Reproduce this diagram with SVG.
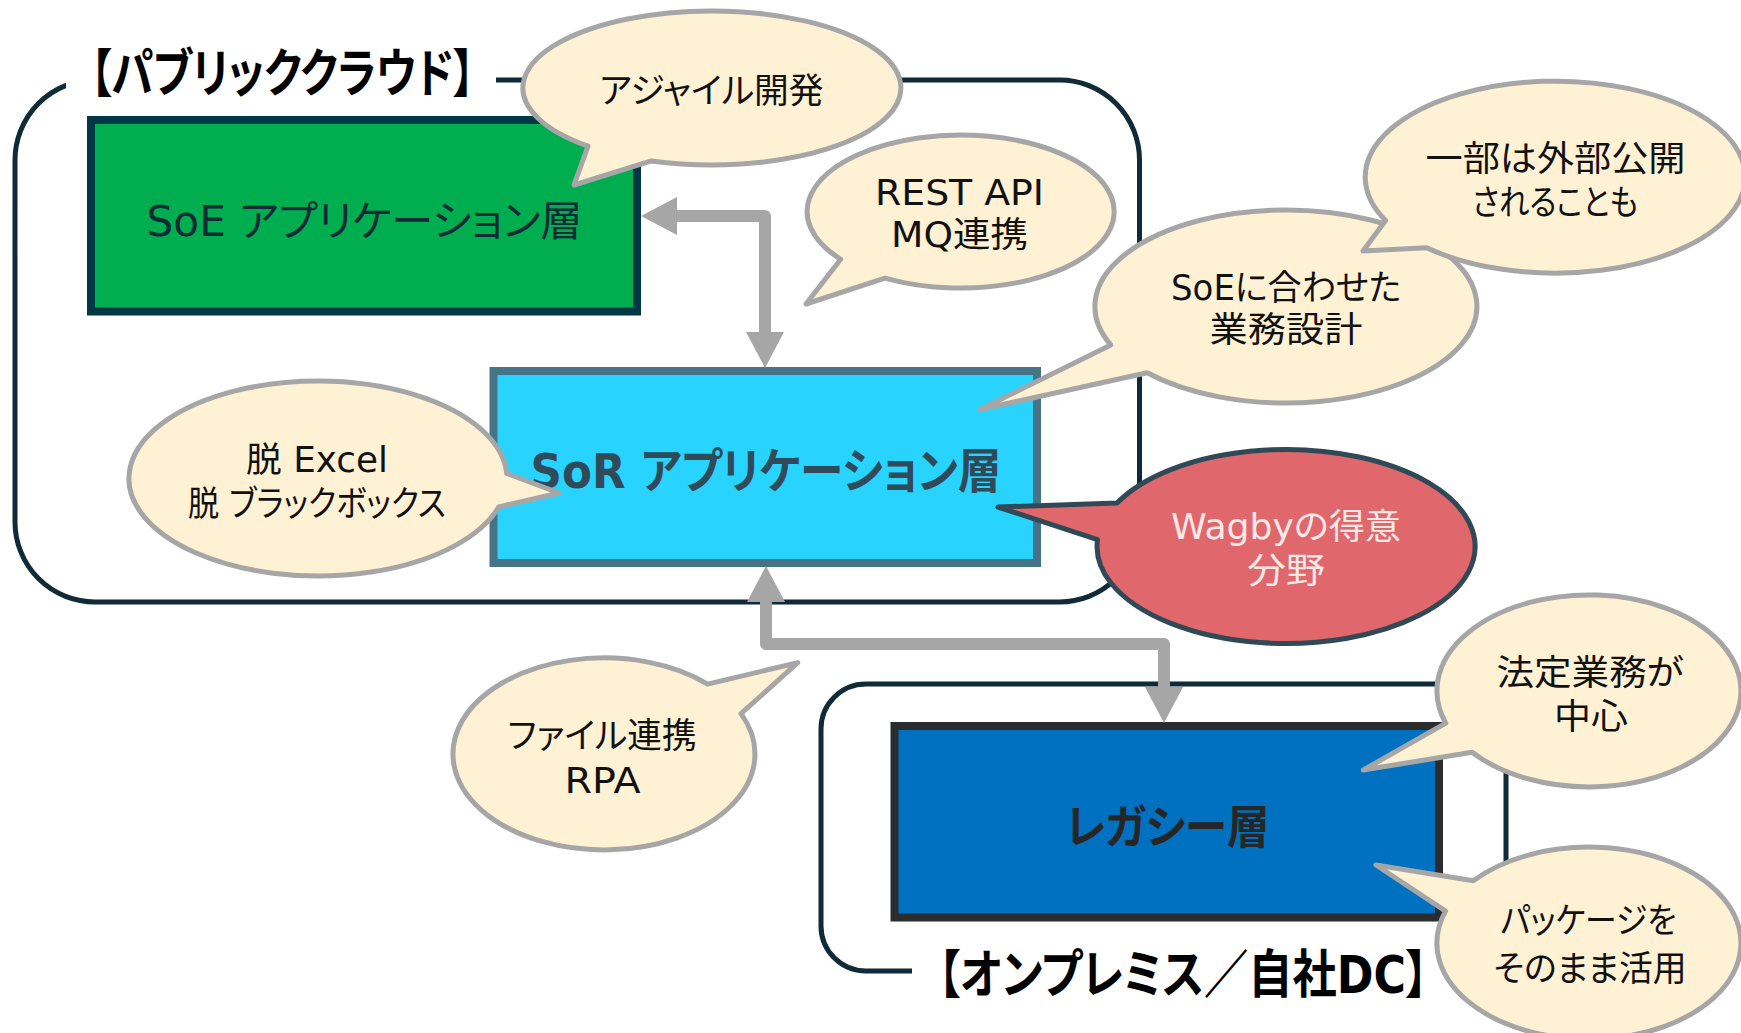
<svg xmlns="http://www.w3.org/2000/svg" width="1741" height="1033" viewBox="0 0 1741 1033">
  <style>
    .zone { fill: none; stroke: #0f2b37; stroke-width: 5; }
    .gap { fill: #ffffff; }
    .jp { font-family: "DejaVu Sans", "Noto Sans CJK JP", sans-serif; font-feature-settings: "palt"; text-anchor: middle; }
    .zone-title { font-size: 52px; font-weight: bold; fill: #000000; }
    .layer { stroke-width: 8; }
    .callout { fill: #fff1d4; stroke: #a6a6a6; stroke-width: 5; stroke-linejoin: round; }
    .callout-hot { fill: #e0676c; stroke: #2f4a56; stroke-width: 5; stroke-linejoin: round; }
    .note { font-size: 35px; fill: #111111; }
    .note-hot { font-size: 35px; fill: #fde9e6; }
    .link { fill: none; stroke: #a6a6a6; stroke-width: 12; stroke-linejoin: round; marker-start: url(#head); marker-end: url(#head); }
  </style>
  <defs>
    <marker id="head" viewBox="0 0 36 38" refX="1" refY="19" markerWidth="36" markerHeight="38" markerUnits="userSpaceOnUse" orient="auto-start-reverse">
      <path d="M0,0 L36,19 L0,38 Z" fill="#a6a6a6"/>
    </marker>
  </defs>

  <rect width="1741" height="1033" fill="#ffffff"/>

  <!-- public cloud zone -->
  <g id="zone-cloud">
    <rect class="zone" x="15" y="80" width="1124.5" height="522" rx="80"/>
    <rect class="gap" x="66" y="46" width="430" height="62"/>
    <text class="jp zone-title" x="282.5" y="92" textLength="384" lengthAdjust="spacingAndGlyphs">【パブリッククラウド】</text>
  </g>

  <!-- on-premises zone -->
  <g id="zone-onprem">
    <rect class="zone" x="821" y="684" width="685" height="287" rx="45"/>
    <rect class="gap" x="912" y="948" width="533" height="50"/>
    <text class="jp zone-title" x="1183" y="993" textLength="490" lengthAdjust="spacingAndGlyphs">【オンプレミス／自社DC】</text>
  </g>

  <!-- layers -->
  <g id="layer-soe">
    <rect class="layer" x="91" y="120" width="546" height="191.5" fill="#00ad4f" stroke="#003846"/>
    <text class="jp" x="364.5" y="236" font-size="42" fill="#0e2b36" textLength="436" lengthAdjust="spacingAndGlyphs">SoE アプリケーション層</text>
  </g>

  <g id="layer-sor">
    <rect class="layer" x="493.5" y="371" width="543.5" height="192" fill="#28d3fd" stroke="#477387"/>
    <text class="jp" x="766" y="488" font-size="48" font-weight="bold" fill="#2f4b59" textLength="471" lengthAdjust="spacingAndGlyphs">SoR アプリケーション層</text>
  </g>

  <g id="layer-legacy">
    <rect class="layer" x="894.5" y="726" width="544.5" height="191.5" fill="#0070c0" stroke="#2a2c2e"/>
    <text class="jp" x="1167.5" y="843" font-size="46" font-weight="bold" fill="#262626" textLength="204" lengthAdjust="spacingAndGlyphs">レガシー層</text>
  </g>

  <!-- connectors -->
  <g id="connectors">
    <path class="link" d="M676,216 H765 V333"/>
    <path class="link" d="M766,601 V644 H1164 V688"/>
  </g>

  <!-- callouts -->
  <g id="note-agile">
    <path class="callout" d="M588,146.1 A189 77 0 1 1 651.4,160.9 L574,185 Z"/>
    <text class="jp note" x="711.5" y="103" textLength="224" lengthAdjust="spacingAndGlyphs">アジャイル開発</text>
  </g>

  <g id="note-api">
    <path class="callout" d="M840.7,259.3 A153.5 76.5 0 1 1 884.9,278.1 L806,304 Z"/>
    <text class="jp note" x="959.5" y="205" textLength="169" lengthAdjust="spacingAndGlyphs">REST API</text>
    <text class="jp note" x="959.5" y="247" textLength="137" lengthAdjust="spacingAndGlyphs">MQ連携</text>
  </g>

  <g id="note-design">
    <path class="callout" d="M1110.8,345 A191 96.5 0 1 1 1147.2,372.8 L980,409.5 Z"/>
    <text class="jp note" x="1286" y="300" textLength="230" lengthAdjust="spacingAndGlyphs">SoEに合わせた</text>
    <text class="jp note" x="1286" y="342" textLength="153" lengthAdjust="spacingAndGlyphs">業務設計</text>
  </g>

  <g id="note-public">
    <path class="callout" d="M1385.6,220.4 A190 96 0 1 1 1426.6,247.8 L1363,251 Z"/>
    <text class="jp note" x="1555.5" y="170.5" textLength="260" lengthAdjust="spacingAndGlyphs">一部は外部公開</text>
    <text class="jp note" x="1555" y="215" textLength="166" lengthAdjust="spacingAndGlyphs">されることも</text>
  </g>

  <g id="note-excel">
    <path class="callout" d="M498.7,507 A189 97.5 0 1 1 506.7,473.4 L559,493 Z"/>
    <text class="jp note" x="317" y="472" textLength="142" lengthAdjust="spacingAndGlyphs">脱 Excel</text>
    <text class="jp note" x="317" y="516" textLength="258" lengthAdjust="spacingAndGlyphs">脱 ブラックボックス</text>
  </g>

  <g id="note-wagby">
    <path class="callout-hot" d="M1117,503.1 A189 97 0 1 1 1097.5,539.7 L998,507 Z"/>
    <text class="jp note-hot" x="1286" y="539" textLength="230" lengthAdjust="spacingAndGlyphs">Wagbyの得意</text>
    <text class="jp note-hot" x="1286" y="583" textLength="78" lengthAdjust="spacingAndGlyphs">分野</text>
  </g>

  <g id="note-file">
    <path class="callout" d="M741,713.6 A151 96 0 1 1 707.6,684.1 L797.8,662.7 Z"/>
    <text class="jp note" x="602" y="748" textLength="189" lengthAdjust="spacingAndGlyphs">ファイル連携</text>
    <text class="jp note" x="602.5" y="793" textLength="76" lengthAdjust="spacingAndGlyphs">RPA</text>
  </g>

  <g id="note-legal">
    <path class="callout" d="M1445.8,723.2 A152 96 0 1 1 1472.1,752.3 L1363.3,770 Z"/>
    <text class="jp note" x="1590" y="685" textLength="187" lengthAdjust="spacingAndGlyphs">法定業務が</text>
    <text class="jp note" x="1591" y="729" textLength="74" lengthAdjust="spacingAndGlyphs">中心</text>
  </g>

  <g id="note-package">
    <path class="callout" d="M1473.3,880.8 A152 96 0 1 1 1445.6,911.1 L1376,865 Z"/>
    <text class="jp note" x="1588.5" y="933" textLength="176" lengthAdjust="spacingAndGlyphs">パッケージを</text>
    <text class="jp note" x="1590" y="981" textLength="193" lengthAdjust="spacingAndGlyphs">そのまま活用</text>
  </g>
</svg>
